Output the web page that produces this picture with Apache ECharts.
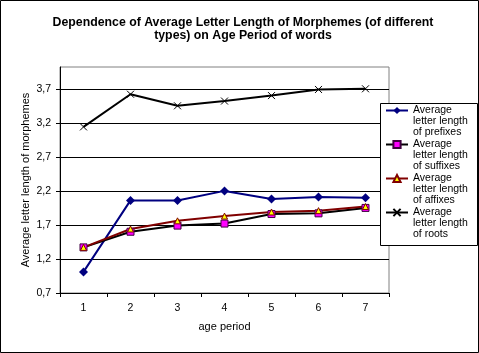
<!DOCTYPE html>
<html>
<head>
<meta charset="utf-8">
<script src="https://cdn.jsdelivr.net/npm/echarts@6/dist/echarts.min.js"></script>
<style>
html, body { margin: 0; padding: 0; background: #fff; }
#chart { width: 479px; height: 353px; }
</style>
</head>
<body>
<div id="chart"></div>
<script>
// age periods on the x axis
var periods = ['1', '2', '3', '4', '5', '6', '7']
// y tick values (Excel style axis starting at 0,7)
var yTicks = [0.7, 1.2, 1.7, 2.2, 2.7, 3.2, 3.7]

var prefixes = [1.01, 2.06, 2.06, 2.20, 2.08, 2.11, 2.10]
var suffixes = [1.37, 1.60, 1.69, 1.72, 1.86, 1.87, 1.95]
var affixes = [1.37, 1.64, 1.76, 1.83, 1.89, 1.91, 1.97]
var roots = [3.14, 3.62, 3.45, 3.52, 3.60, 3.69, 3.70]

var seriesNames = [
    'Average\nletter length\nof prefixes',
    'Average\nletter length\nof suffixes',
    'Average\nletter length\nof affixes',
    'Average\nletter length\nof roots'
]

var font = 'Liberation Sans, Arial, sans-serif'
var crossPath = 'path://M0,0L10,10M10,0L0,10'

var chart = echarts.init(document.getElementById('chart'))

var option = {
    backgroundColor: '#fff',
    animation: false,
    title: {
        text: 'Dependence of Average Letter Length of Morphemes (of different\ntypes) on Age Period of words',
        left: 238,
        textAlign: 'center',
        top: 11,
        textStyle: {
            fontFamily: font,
            fontSize: 12.3,
            fontWeight: 'bold',
            color: '#000',
            lineHeight: 13
        }
    },
    grid: {
        left: 60,
        right: 90,
        top: 67,
        bottom: 60,
        show: true,
        borderColor: '#808080',
        borderWidth: 1,
        containLabel: false
    },
    legend: {
        orient: 'vertical',
        left: 385,
        top: 83,
        padding: 0,
        itemGap: -21,
        itemWidth: 22,
        itemHeight: 9,
        data: seriesNames,
        // two empty lines first, so the icon lines up with the first text line
        formatter: function (name) {
            return '\n\n' + name
        },
        textStyle: {
            fontFamily: font,
            fontSize: 10.5,
            color: '#000',
            lineHeight: 11
        },
        z: 10
    },
    graphic: [
        // outer chart frame
        {
            type: 'rect',
            shape: { x: 0.5, y: 0.5, width: 478, height: 352 },
            style: { fill: 'none', stroke: '#000', lineWidth: 1 },
            z: 100
        },
        // legend box
        {
            type: 'rect',
            shape: { x: 380.5, y: 103.5, width: 97, height: 142 },
            style: { fill: '#fff', stroke: '#000', lineWidth: 1 },
            z: 5
        }
    ],
    xAxis: {
        type: 'category',
        data: periods,
        boundaryGap: true,
        name: 'age period',
        nameLocation: 'middle',
        nameGap: 28,
        nameTextStyle: { fontFamily: font, fontSize: 11, color: '#000' },
        axisLine: { lineStyle: { color: '#000', width: 1 } },
        axisTick: { show: true, length: 4, inside: false, lineStyle: { color: '#000' } },
        axisLabel: { fontFamily: font, fontSize: 10.5, color: '#000', margin: 10 },
        splitLine: { show: false }
    },
    yAxis: {
        type: 'value',
        min: 0.7,
        max: 4.02,
        name: 'Average letter length of morphemes',
        nameLocation: 'middle',
        nameGap: 29,
        nameMoveOverlap: false,
        nameTextStyle: { fontFamily: font, fontSize: 11, color: '#000' },
        axisLine: { show: true, lineStyle: { color: '#000', width: 1 } },
        axisTick: { show: true, length: 4, lineStyle: { color: '#000' }, customValues: yTicks },
        axisLabel: {
            fontFamily: font,
            fontSize: 10.5,
            color: '#000',
            margin: 9,
            customValues: yTicks,
            formatter: function (v) {
                return v.toFixed(1).replace('.', ',')
            }
        },
        splitLine: { show: true, lineStyle: { color: '#000', width: 1 } }
    },
    series: [
        {
            name: seriesNames[0],
            type: 'line',
            data: prefixes,
            symbol: 'diamond',
            symbolSize: 9,
            lineStyle: { color: '#000080', width: 2 },
            itemStyle: { color: '#000080' },
            z: 3
        },
        {
            name: seriesNames[1],
            type: 'line',
            data: suffixes,
            symbol: 'rect',
            symbolSize: 7,
            lineStyle: { color: '#000', width: 2 },
            itemStyle: { color: '#ff00ff', borderColor: '#400040', borderWidth: 1 },
            z: 3
        },
        {
            name: seriesNames[2],
            type: 'line',
            data: affixes,
            symbol: 'triangle',
            symbolSize: 6,
            lineStyle: { color: '#800000', width: 2 },
            itemStyle: { color: '#ffff00', borderColor: '#800000', borderWidth: 1 },
            z: 3
        },
        {
            name: seriesNames[3],
            type: 'line',
            data: roots,
            symbol: crossPath,
            symbolSize: 7,
            lineStyle: { color: '#000', width: 2 },
            itemStyle: { color: '#000', borderColor: '#000', borderWidth: 1 },
            z: 3
        }
    ]
}

chart.setOption(option)
</script>
</body>
</html>
